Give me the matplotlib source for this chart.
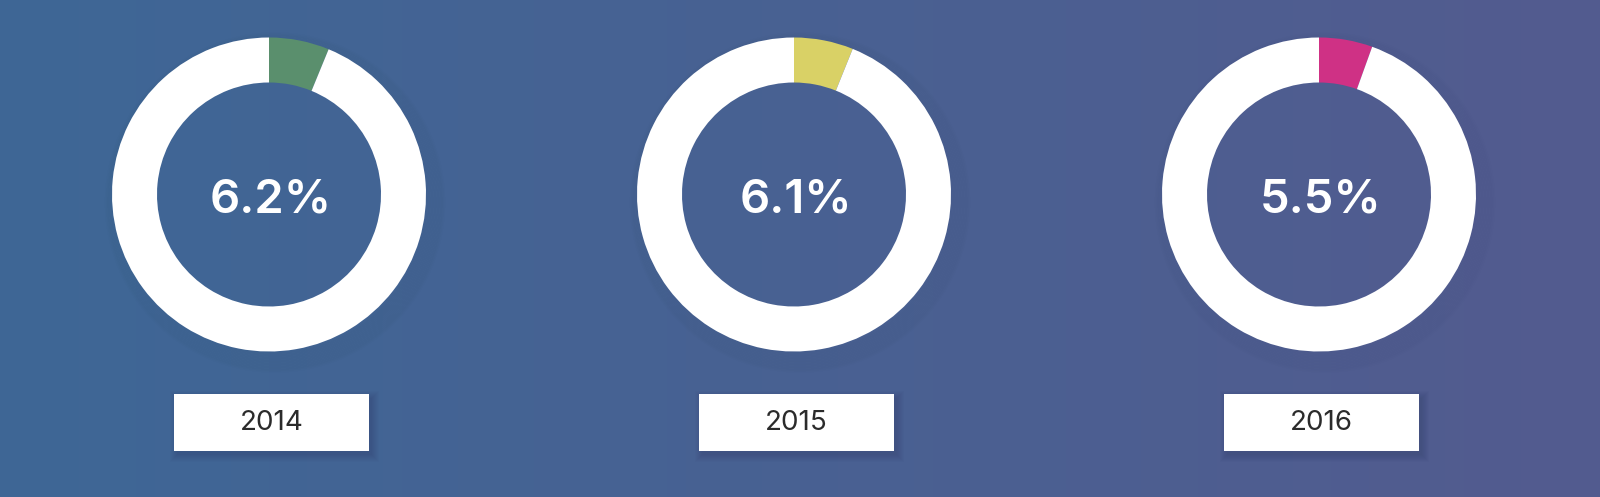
import numpy as np
import matplotlib.pyplot as plt
from matplotlib.patches import Rectangle, Circle

plt.rcParams['font.family'] = ['Inter', 'DejaVu Sans']

years = ["2014", "2015", "2016"]
shares = [6.2, 6.1, 5.5]
labels = ["6.2%", "6.1%", "5.5%"]
seg_colors = ["#5a8f6d", "#d9d166", "#cf3185"]

W, H = 1600, 497
fig = plt.figure(figsize=(W / 100, H / 100), dpi=100)
ax = fig.add_axes([0, 0, 1, 1])

# background gradient, left -> right
left = np.array([62, 103, 150]) / 255
right = np.array([83, 91, 143]) / 255
t = np.linspace(0, 1, 256)[None, :, None]
grad = left * (1 - t) + right * t
ax.imshow(grad, extent=(0, W, 0, H), aspect="auto", zorder=0, interpolation="bicubic")

centers_x = [269, 794, 1319]
cy = H - 194.5
r_out, ring = 157, 45

for i, (yr, v, lab, col) in enumerate(zip(years, shares, labels, seg_colors)):
    cx = centers_x[i]
    # soft diffuse shadow, mostly lower right
    for k in range(14):
        ax.add_patch(Circle((cx + 6, cy - 8), r_out - 8 + k * 1.5, facecolor="none",
                            edgecolor="#1d2a50", lw=2.5, alpha=0.016, zorder=0.5))
    ax.pie([v, 100 - v], colors=[col, "white"], startangle=90, counterclock=False,
           radius=r_out, center=(cx, cy),
           wedgeprops=dict(width=ring, edgecolor="none", linewidth=0))
    ax.text(cx + 2, cy - 6, lab, ha="center", va="center", color="white",
            fontsize=34, fontweight="semibold", zorder=5)

    # year label box
    bx, bw, bh, by = cx + 2.5, 195, 57, 46
    for k in range(8):
        ax.add_patch(Rectangle((bx - bw / 2 + 3 - k, by - 4 - k), bw + 2 * k, bh + 2 * k,
                               facecolor="#1d2a50", edgecolor="none", alpha=0.025, zorder=0.5))
    ax.add_patch(Rectangle((bx - bw / 2, by), bw, bh, facecolor="white",
                           edgecolor="none", zorder=2))
    ax.text(bx, by + bh / 2, yr, ha="center", va="center", color="#2b2b2b",
            fontsize=20, fontweight="normal", zorder=3)

ax.set_xlim(0, W)
ax.set_ylim(0, H)
ax.set_aspect("auto")
ax.axis("off")

plt.savefig("out.png", dpi=100)
